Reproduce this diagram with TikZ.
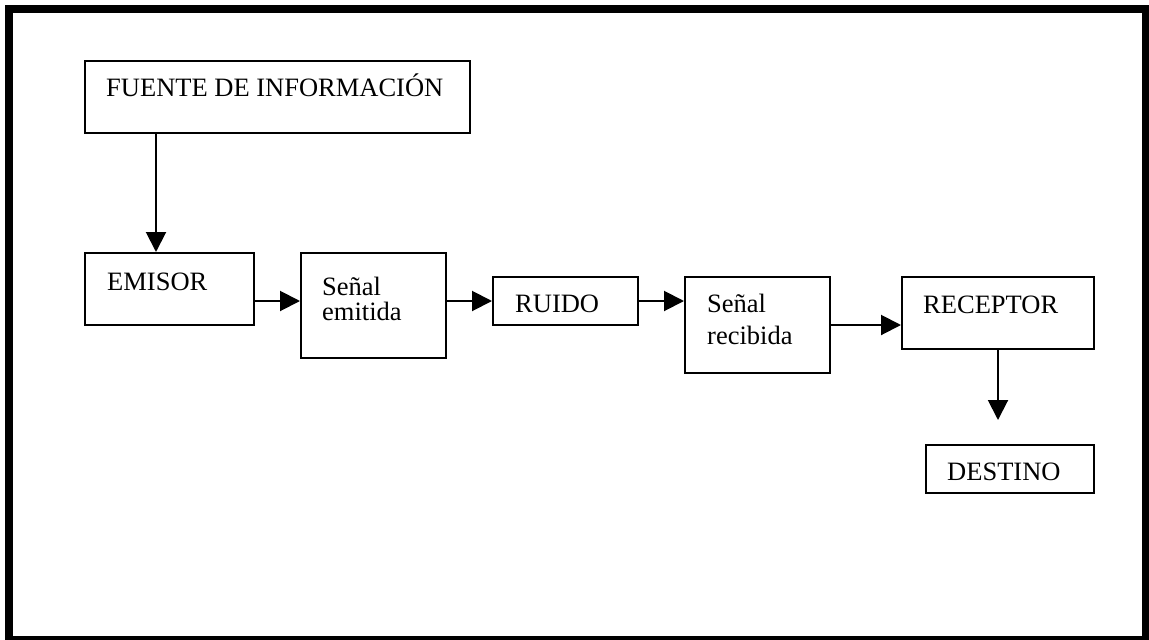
\documentclass[tikz,border=0pt]{standalone}
\usepackage{fontspec}
\setmainfont{Liberation Serif}
\usetikzlibrary{arrows.meta}
\begin{document}
\begin{tikzpicture}[x=1pt,y=-1pt,
  box/.style={draw=black, line width=2pt, inner sep=0pt, rectangle},
  txt/.style={anchor=base west, inner sep=0pt, font=\fontsize{26.5}{30}\selectfont},
  arr/.style={line width=2pt, -{Triangle[length=20pt,width=20pt]}}]
\clip (0,0) rectangle (1149,640);
\useasboundingbox (0,0) rectangle (1149,640);
\fill[white] (0,0) rectangle (1149,640);
\draw[line width=8pt] (9,9) rectangle (1145.5,640);
% boxes
\node[box, minimum width=385pt, minimum height=72pt] (fuente) at (277.5,97) {};
\node[box, minimum width=169pt, minimum height=72pt] (emisor) at (169.5,289) {};
\node[box, minimum width=145pt, minimum height=105pt] (emitida) at (373.5,305.5) {};
\node[box, minimum width=145pt, minimum height=48pt] (ruido) at (565.5,301) {};
\node[box, minimum width=145pt, minimum height=96pt] (recibida) at (757.5,325) {};
\node[box, minimum width=192pt, minimum height=72pt] (receptor) at (998,313) {};
\node[box, minimum width=168pt, minimum height=48pt] (destino) at (1010,469) {};
% texts
\node[txt] (t1) at (106,96) {FUENTE DE INFORMACIÓN};
\node[txt] (t2) at (107,290) {EMISOR};
\node[txt] (t3a) at (322,295.5) {Señal};
\node[txt] (t3b) at (322,320.5) {emitida};
\node[txt] (t4) at (515,312) {RUIDO};
\node[txt] (t5a) at (707,312.5) {Señal};
\node[txt] (t5b) at (707,344) {recibida};
\node[txt] (t6) at (923,313) {RECEPTOR};
\node[txt] (t7) at (947,480) {DESTINO};
% arrows
\draw[arr] ([xshift=72pt]fuente.south west) -- ([xshift=72pt]emisor.north west);
\draw[arr] ([yshift=-12pt]emisor.east) -- ([yshift=-12pt]emisor.east -| emitida.west);
\draw[arr] (emitida.east |- ruido.west) -- (ruido.west);
\draw[arr] (ruido.east) -- (ruido.east -| recibida.west);
\draw[arr] (recibida.east) -- (recibida.east -| receptor.west);
\coordinate (rtip) at (998,420);
\draw[arr] (receptor.south) -- (rtip);
\end{tikzpicture}
\end{document}
